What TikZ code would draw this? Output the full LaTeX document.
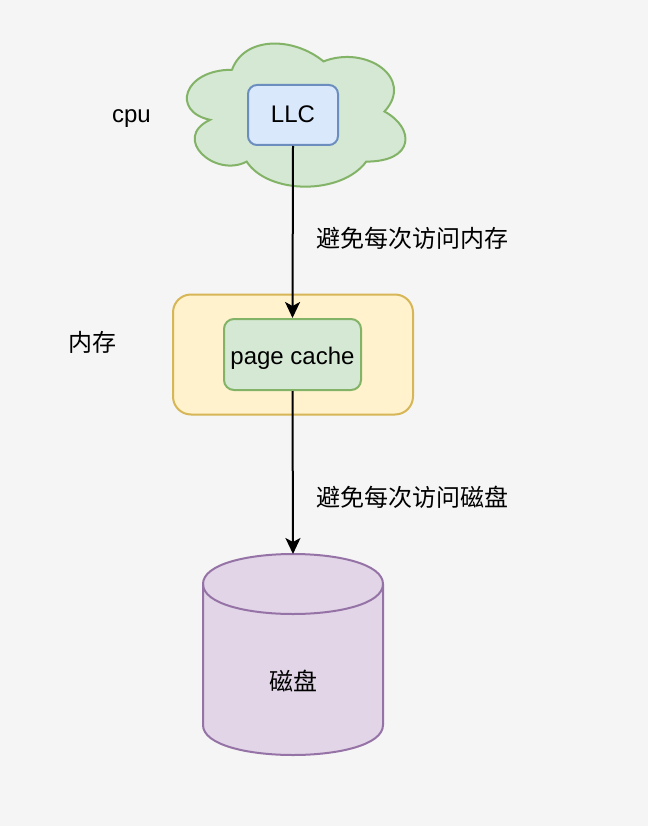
\documentclass[tikz,border=0pt]{standalone}
\usepackage{fontspec}
\setmainfont{Liberation Sans}
\newfontfamily\cjk{Noto Sans CJK SC}
\usetikzlibrary{arrows.meta}
\definecolor{bgc}{HTML}{F5F5F5}
\definecolor{greenfill}{HTML}{D5E8D4}
\definecolor{greenline}{HTML}{82B366}
\definecolor{bluefill}{HTML}{DAE8FC}
\definecolor{blueline}{HTML}{6C8EBF}
\definecolor{yellowfill}{HTML}{FFF2CC}
\definecolor{yellowline}{HTML}{D6B656}
\definecolor{purplefill}{HTML}{E1D5E7}
\definecolor{purpleline}{HTML}{9673A6}
\tikzset{
  txt/.style={font=\fontsize{24}{28}\selectfont, text=black, inner sep=0pt},
  llcbox/.style={draw=blueline, fill=bluefill, line width=2pt, rounded corners=9pt, minimum width=90pt, minimum height=60pt},
  membox/.style={draw=yellowline, fill=yellowfill, line width=2pt, rounded corners=18pt, minimum width=240pt, minimum height=120pt},
  pcbox/.style={draw=greenline, fill=greenfill, line width=2pt, rounded corners=10pt, minimum width=137pt, minimum height=71pt},
  arr/.style={line width=2pt, -{Stealth[length=16pt,width=15pt,inset=4pt]}},
}
\begin{document}
\begin{tikzpicture}[x=1pt,y=-1pt]
\fill[bgc] (0,0) rectangle (648,826);
\useasboundingbox (0,0) rectangle (648,826);
% cloud
\draw[draw=greenline, fill=greenfill, line width=2pt]
  (232,69.75)
  .. controls (183.2,69.75) and (171,111.5) .. (210.04,119.85)
  .. controls (171,138.22) and (214.92,178.3) .. (246.64,161.6)
  .. controls (268.6,195) and (341.8,195) .. (366.2,161.6)
  .. controls (415,161.6) and (415,128.2) .. (384.5,111.5)
  .. controls (415,78.1) and (366.2,44.7) .. (323.5,61.4)
  .. controls (293,36.35) and (244.2,36.35) .. (232,69.75) -- cycle;
\node[llcbox] (llc) at (293,115) {};
\node[txt, anchor=base] (llctext) at (293,123) {LLC};
\node[txt, anchor=base] (cpu) at (131.5,123) {cpu};
% memory
\node[membox] (mem) at (293,354.5) {};
\node[pcbox] (pc) at (292.5,354.5) {};
\node[txt, anchor=base] (pctext) at (292.5,364) {page cache};
\node[txt] (memlabel) at (92,342) {\cjk 内存};
% disk cylinder
\draw[draw=purpleline, fill=purplefill, line width=2pt]
  (203,584) .. controls (203,544) and (383,544) .. (383,584)
  -- (383,725) .. controls (383,765) and (203,765) .. (203,725) -- cycle;
\draw[draw=purpleline, line width=2pt]
  (203,584) .. controls (203,624) and (383,624) .. (383,584);
\coordinate (disktop) at (293,554);
\node[txt] (disk) at (293,681.5) {\cjk 磁盘};
% arrows
\draw[arr] (llc.south) -- (pc.north);
\draw[arr] (pc.south) -- (disktop);
\node[txt, anchor=west] (lab1) at (316,238) {\cjk 避免每次访问内存};
\node[txt, anchor=west] (lab2) at (316,497) {\cjk 避免每次访问磁盘};
\end{tikzpicture}
\end{document}
